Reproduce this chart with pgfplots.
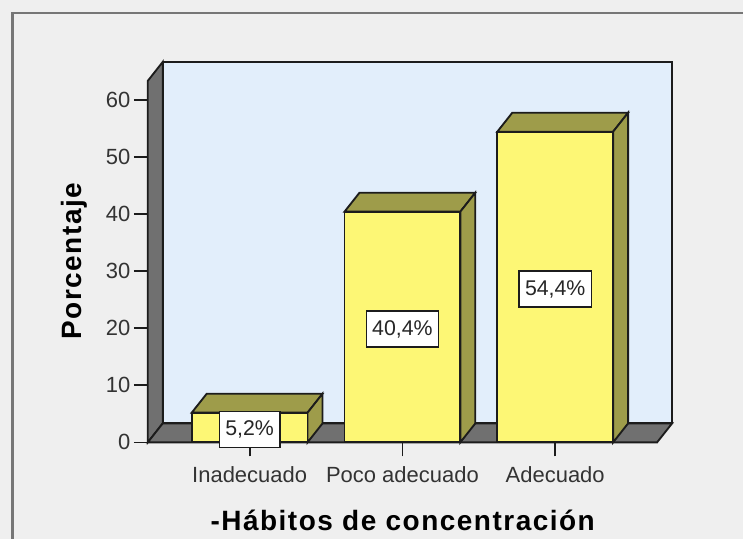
\documentclass[border=0pt]{standalone}
\usepackage{pgfplots}
\pgfplotsset{compat=1.18}
\usepackage{pgfplotstable}
\usepackage{fontspec}
\setmainfont{Liberation Sans}
\definecolor{bgc}{HTML}{EFEFEF}
\definecolor{framec}{HTML}{767676}
\definecolor{wallc}{HTML}{E2EEFB}
\definecolor{sidec}{HTML}{707070}
\definecolor{barc}{HTML}{FDF775}
\definecolor{darkc}{HTML}{9E9C4A}
\definecolor{linec}{HTML}{1C1C1C}
\pgfplotstableread{
x v
0 5.2
1 40.4
2 54.4
}\bars
\begin{document}
\begin{tikzpicture}[x=1pt,y=1pt]
% panel background and frame, in pt from the axis's lower left corner
\fill[bgc] (-111,-72.25) rectangle (447,332.25);
\draw[framec, line width=1.6pt] (-101.6,-72.25) -- (-101.6,322.5) -- (447,322.5);
\useasboundingbox (-111,-72.25) rectangle (447,332.25);
\begin{axis}[
  at={(0,0)}, anchor=south west,
  scale only axis,
  width=382.5pt, height=271.5pt,
  clip=false,
  xmin=-0.6667, xmax=2.6667,
  ymin=0, ymax=63.3,
  axis x line=bottom, axis y line=left,
  axis line style={-, linec, line width=1.4pt},
  xtick={0,1,2},
  xticklabels={Inadecuado,Poco adecuado,Adecuado},
  ytick={0,10,20,30,40,50,60},
  tick align=outside,
  major tick length=10.5pt,
  tick style={linec, line width=1.3pt},
  tick label style={font=\fontsize{16.5}{18}\selectfont, text=black!80},
  /pgf/number format/assume math mode=true,
  yticklabel style={xshift=1pt},
  xticklabel style={yshift=-4pt},
  xlabel={\addfontfeature{LetterSpace=5.4}\textbf{-Hábitos de concentración}},
  ylabel={\addfontfeature{LetterSpace=5.4}\textbf{Porcentaje}},
  label style={font=\fontsize{21}{22}\selectfont},
  xlabel style={at={(axis description cs:0.502,-0.2155)}, anchor=center},
  ylabel style={at={(axis description cs:-0.145,0.503)}, anchor=center},
]
% back wall, side wall, floor
\addplot[fill=wallc, draw=linec, line width=1.4pt] coordinates {(-0.569,3.32) (2.765,3.32) (2.765,66.62) (-0.569,66.62)} -- cycle;
\addplot[fill=sidec, draw=linec, line width=1.4pt] coordinates {(-0.6667,0) (-0.569,3.32) (-0.569,66.62) (-0.6667,63.3)} -- cycle;
\addplot[fill=sidec, draw=linec, line width=1.4pt] coordinates {(-0.6667,0) (2.6667,0) (2.765,3.32) (-0.569,3.32)} -- cycle;
% bar tops and sides
\addplot[fill=darkc, draw=linec, line width=1.4pt] coordinates {(-0.379,5.2) (0.379,5.2) (0.477,8.52) (-0.281,8.52)} -- cycle;
\addplot[fill=darkc, draw=linec, line width=1.4pt] coordinates {(0.379,0) (0.477,3.32) (0.477,8.52) (0.379,5.2)} -- cycle;
\addplot[fill=darkc, draw=linec, line width=1.4pt] coordinates {(0.621,40.4) (1.379,40.4) (1.477,43.72) (0.719,43.72)} -- cycle;
\addplot[fill=darkc, draw=linec, line width=1.4pt] coordinates {(1.379,0) (1.477,3.32) (1.477,43.72) (1.379,40.4)} -- cycle;
\addplot[fill=darkc, draw=linec, line width=1.4pt] coordinates {(1.621,54.4) (2.379,54.4) (2.477,57.72) (1.719,57.72)} -- cycle;
\addplot[fill=darkc, draw=linec, line width=1.4pt] coordinates {(2.379,0) (2.477,3.32) (2.477,57.72) (2.379,54.4)} -- cycle;
% bars
\addplot[ybar, bar width=0.758, bar shift=0pt, fill=barc, draw=linec, line width=1.4pt] table[x=x,y=v] {\bars};
% value labels
\addplot[only marks, mark=none, point meta=\thisrow{v},
  nodes near coords={\pgfmathprintnumber[fixed,fixed zerofill,precision=1,use comma,assume math mode=true]{\pgfplotspointmeta}\%},
  every node near coord/.append style={anchor=center, yshift=-1.5pt, fill=white, draw=linec, line width=1pt, inner xsep=4.5pt, inner ysep=0pt, minimum height=27pt, text=black!85, font=\fontsize{16}{18}\selectfont}]
  table[x=x,y expr=\thisrow{v}/2] {\bars};
\end{axis}
\end{tikzpicture}
\end{document}
